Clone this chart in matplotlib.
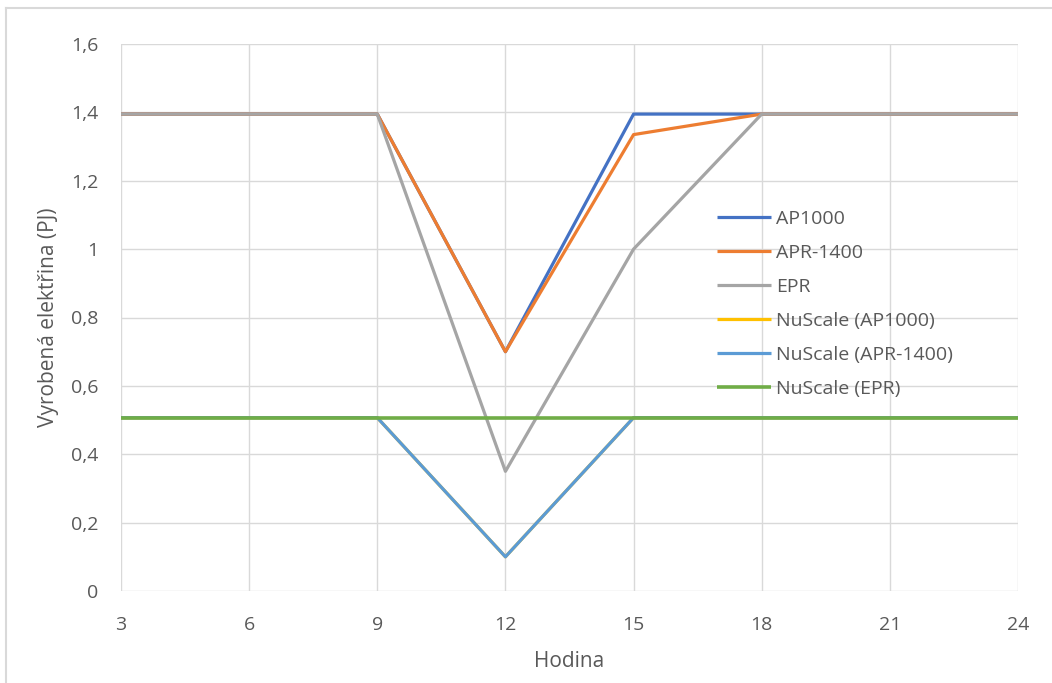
import matplotlib
matplotlib.use('Agg')
import matplotlib.pyplot as plt
from matplotlib.lines import Line2D

# hours on the x axis
hodiny = [3, 6, 9, 12, 15, 18, 21, 24]

# produced electricity (PJ) per series
ap1000 = [1.395, 1.395, 1.395, 0.70, 1.395, 1.395, 1.395, 1.395]
apr1400 = [1.395, 1.395, 1.395, 0.70, 1.335, 1.395, 1.395, 1.395]
epr = [1.395, 1.395, 1.395, 0.35, 1.00, 1.395, 1.395, 1.395]
nuscale_ap1000 = [0.507, 0.507, 0.507, 0.10, 0.507, 0.507, 0.507, 0.507]
nuscale_apr1400 = [0.507, 0.507, 0.507, 0.10, 0.507, 0.507, 0.507, 0.507]
nuscale_epr = [0.507, 0.507, 0.507, 0.507, 0.507, 0.507, 0.507, 0.507]

series = [
    ('AP1000', ap1000, '#4472C4'),
    ('APR-1400', apr1400, '#ED7D31'),
    ('EPR', epr, '#A5A5A5'),
    ('NuScale (AP1000)', nuscale_ap1000, '#FFC000'),
    ('NuScale (APR-1400)', nuscale_apr1400, '#5B9BD5'),
    ('NuScale (EPR)', nuscale_epr, '#70AD47'),
]

plt.rcParams['font.family'] = ['Open Sans', 'DejaVu Sans']
text_col = '#595959'
grid_col = '#D9D9D9'

fig = plt.figure(figsize=(10.52, 6.83), dpi=100)
ax = fig.add_axes([121 / 1052, 1 - 591 / 683, (1018 - 121) / 1052, (591 - 44) / 683])

for name, vals, col in series:
    lw = 2.6 if name == 'NuScale (EPR)' else 2.3
    ax.plot(hodiny, vals, color=col, lw=lw, label=name, solid_capstyle='butt', zorder=3)

ax.set_xlim(3, 24)
ax.set_ylim(0, 1.6)
ax.set_xticks(range(3, 25, 3))
ax.set_yticks([0, 0.2, 0.4, 0.6, 0.8, 1.0, 1.2, 1.4, 1.6])
ax.set_yticklabels(['0', '0,2', '0,4', '0,6', '0,8', '1', '1,2', '1,4', '1,6'])

ax.grid(True, color=grid_col, lw=1.0, zorder=0)
for s in ax.spines.values():
    s.set_visible(False)
ax.tick_params(length=0, labelsize=14, labelcolor=text_col)
ax.tick_params(axis='y', pad=16.5)
ax.tick_params(axis='x', pad=18)

ax.set_xlabel('Hodina', fontsize=15, color=text_col, labelpad=12)
ax.set_ylabel('Vyrobená elektřina (PJ)', fontsize=15, color=text_col, labelpad=8.5)

leg = ax.legend(loc='center left', bbox_to_anchor=(0.664, 0.525), frameon=False,
                fontsize=14, handlelength=2.8, handletextpad=0.28,
                labelspacing=0.82, borderaxespad=0, borderpad=0)
for t in leg.get_texts():
    t.set_color(text_col)

# outer chart border (left and top edges visible)
fig.add_artist(Line2D([5.5 / 1052, 5.5 / 1052], [0, 1 - 8 / 683], color=grid_col, lw=1.5,
                      transform=fig.transFigure))
fig.add_artist(Line2D([5.5 / 1052, 1], [1 - 8 / 683, 1 - 8 / 683], color=grid_col, lw=1.5,
                      transform=fig.transFigure))

fig.savefig('out.png', dpi=100)
